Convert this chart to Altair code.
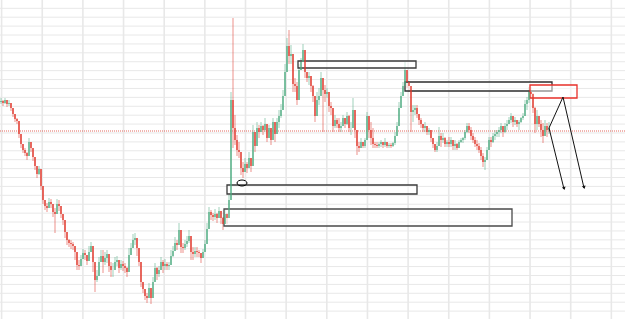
import altair as alt
import pandas as pd

# Candle values in chart units (the price axis runs downward: larger = lower on the chart)
first_open = 102
close = [
    101, 103, 100, 104, 103, 108, 114, 119, 121, 134, 144, 150, 153, 156, 142, 148, 157, 166, 174, 169,
    186, 200, 206, 208, 202, 204, 212, 214, 204, 206, 214, 220, 232, 240, 243, 244, 246, 252, 265, 266,
    259, 253, 255, 261, 252, 246, 262, 280, 276, 262, 256, 262, 258, 254, 266,
    270, 270, 262, 260, 268, 264, 266, 268, 272, 255, 248, 240, 238, 248, 262, 282, 289, 296, 298, 288,
    298, 282, 268, 274, 270, 262, 266, 264, 266, 265, 256, 251, 243, 245, 230, 247, 248, 244, 241, 236,
    252, 254, 251, 252, 253, 258, 252, 244, 229, 212, 215, 217, 214, 218, 211, 218, 224, 214, 218, 200,
    100, 128, 140, 150, 152, 168, 172, 164, 168, 158, 166, 132, 146, 128, 132, 126, 130, 124, 138, 128,
    140, 122, 134, 122, 116, 110, 96, 72, 46, 56, 54, 84, 86, 100, 70, 62, 50, 72, 78, 76,
    86, 96, 116, 100, 96, 78, 90, 94, 92, 106,
    108, 126, 120, 124, 128, 126, 118, 124, 116, 128, 128, 110, 130, 146, 148, 142, 146, 140, 116, 130,
    138, 144, 145, 146, 144, 142, 145, 142, 146, 145, 146, 143, 136, 126, 108, 96, 86, 70, 82, 86,
    112, 110, 108, 114, 120, 124, 128, 126, 132, 130, 138, 144, 150, 146, 136,
    140, 138, 144, 142, 144, 140, 146, 144, 148, 142, 140, 138, 132, 126, 130, 136, 140, 144, 146, 150,
    156, 162, 160, 150, 140, 142, 136, 134, 132, 130, 126, 132, 126, 124, 120, 116, 122, 120, 124, 122,
    118, 116, 104, 100, 92, 94, 108, 124, 116, 124, 130, 136, 126, 130, 128,
]
high = [
    98, 100, 98, 101, 100, 104, 110, 115, 118, 127, 140, 146, 148, 152, 138, 144, 152, 162, 170, 166,
    176, 195, 202, 203, 198, 199, 207, 208, 199, 200, 209, 216, 226, 236, 239, 240, 242, 248, 258, 260,
    255, 249, 250, 257, 246, 242, 256, 270, 270, 257, 250, 250, 252, 250, 260,
    262, 263, 257, 256, 263, 260, 261, 263, 267, 248, 243, 234, 233, 240, 255, 265, 285, 290, 293, 283,
    293, 277, 263, 267, 266, 257, 260, 259, 262, 262, 250, 246, 237, 240, 223, 240, 243, 240, 236, 230,
    243, 247, 247, 247, 250, 253, 249, 240, 223, 207, 210, 213, 209, 213, 207, 213, 217, 210, 213, 195,
    92, 18, 115, 135, 142, 155, 162, 158, 162, 152, 160, 125, 138, 122, 125, 122, 125, 118, 132, 125,
    132, 118, 125, 118, 110, 104, 90, 64, 38, 30, 45, 70, 78, 82, 64, 58, 44, 64, 72, 72,
    78, 85, 105, 92, 88, 72, 80, 85, 88, 98,
    102, 112, 115, 118, 118, 122, 115, 118, 112, 115, 122, 98, 122, 135, 142, 138, 142, 138, 112, 118,
    122, 128, 142, 142, 142, 140, 142, 138, 142, 143, 143, 142, 132, 122, 102, 92, 82, 62, 75, 82,
    88, 105, 105, 105, 115, 118, 125, 122, 128, 128, 132, 138, 145, 142, 127,
    133, 133, 137, 140, 137, 137, 140, 140, 143, 140, 138, 137, 130, 123, 123, 127, 133, 137, 140, 143,
    147, 153, 157, 147, 137, 137, 133, 130, 130, 127, 123, 127, 123, 120, 117, 113, 117, 117, 120, 120,
    117, 113, 100, 97, 87, 87, 93, 107, 110, 117, 120, 123, 120, 123, 122,
]
low = [
    104, 106, 104, 107, 106, 111, 117, 122, 124, 138, 148, 153, 156, 160, 146, 152, 161, 170, 178, 175,
    190, 204, 210, 212, 206, 208, 217, 233, 208, 211, 218, 225, 238, 245, 247, 249, 250, 260, 270, 270,
    264, 258, 260, 265, 256, 250, 272, 292, 282, 266, 262, 273, 265, 263, 272,
    277, 277, 270, 266, 273, 270, 271, 273, 277, 260, 253, 245, 245, 256, 266, 287, 293, 300, 303, 297,
    304, 290, 278, 280, 277, 270, 273, 270, 270, 270, 263, 257, 250, 250, 240, 253, 253, 250, 247, 243,
    260, 260, 257, 257, 257, 263, 257, 250, 237, 217, 220, 221, 220, 223, 217, 224, 230, 220, 224, 215,
    200, 148, 145, 156, 158, 175, 178, 172, 173, 168, 172, 142, 152, 135, 138, 132, 135, 132, 142, 135,
    145, 128, 142, 128, 128, 118, 102, 82, 56, 64, 64, 92, 92, 105, 78, 68, 58, 78, 82, 85,
    92, 102, 122, 108, 105, 88, 132, 102, 98, 112,
    115, 132, 128, 128, 132, 132, 125, 128, 125, 132, 135, 122, 138, 155, 152, 148, 148, 148, 122, 138,
    145, 148, 148, 148, 148, 147, 148, 147, 148, 148, 148, 147, 145, 135, 118, 105, 95, 82, 88, 92,
    132, 122, 115, 118, 125, 128, 132, 132, 135, 135, 142, 148, 152, 152, 145,
    147, 143, 147, 147, 147, 147, 150, 150, 150, 147, 143, 143, 140, 133, 133, 140, 143, 147, 150, 153,
    160, 167, 170, 160, 150, 147, 143, 140, 137, 137, 133, 137, 133, 130, 123, 123, 127, 125, 127, 130,
    123, 120, 113, 110, 103, 97, 113, 133, 130, 127, 137, 143, 133, 137, 134,
]

# Drawn annotations: boxes (t1, t2, level1, level2), their outline colours
box_t1 = [148.5, 202, 113, 111.5, 264.5]
box_t2 = [207.5, 275.5, 208, 255.5, 288]
box_v1 = [61, 82, 185, 209, 85]
box_v2 = [68, 91, 194, 226, 98]
box_col = ["#3a3a3a", "#2e2e2e", "#3a3a3a", "#4a4a4a", "#e8302a"]

ref_level = [131]
ellipse_t = [120.5]
ellipse_v = [183]

arrow_path = ["a", "a", "b", "b", "b"]
arrow_t = [274, 281.5, 274, 281, 291.5]
arrow_v = [128, 189, 128, 97, 188]
head_t = [281.5, 291.5]
head_v = [188, 187]
head_ang = [166, 167]

grid_t = [0.3 + 20.325 * k for k in range(16)]
grid_v = [8.3 + 8.906 * k for k in range(36)]

opens = [first_open] + close[:-1]
rows = []
for i, (o, c, h, l) in enumerate(zip(opens, close, high, low)):
    rows.append(dict(t=i, open=o, close=c, high=min(h, o, c), low=max(l, o, c),
                     dir="down" if c > o else "up"))
df = pd.DataFrame(rows)

xs = alt.Scale(domain=[-0.5, 312], nice=False, zero=False)
ys = alt.Scale(domain=[0, 319], reverse=True, nice=False, zero=False)
col = alt.Color("dir:N", scale=alt.Scale(domain=["up", "down"], range=["#52ad84", "#e0392e"]), legend=None)

vgrid = alt.Chart(pd.DataFrame({"t": grid_t})).mark_rule(color="#e8e8e8", strokeWidth=1.6).encode(
    x=alt.X("t:Q", scale=xs, axis=None)
)
hgrid = alt.Chart(pd.DataFrame({"v": grid_v})).mark_rule(color="#e8e8e8", strokeWidth=1).encode(
    y=alt.Y("v:Q", scale=ys, axis=None)
)

wick = alt.Chart(df).mark_rule(strokeWidth=1, opacity=0.55).encode(
    x=alt.X("t:Q", scale=xs, axis=None),
    y=alt.Y("high:Q", scale=ys, axis=None),
    y2="low:Q",
    color=col,
)
body = alt.Chart(df).mark_rule(strokeWidth=1.6, opacity=0.85).encode(
    x=alt.X("t:Q", scale=xs, axis=None),
    y=alt.Y("open:Q", scale=ys, axis=None),
    y2="close:Q",
    color=col,
)

ref = alt.Chart(pd.DataFrame({"v": ref_level})).mark_rule(
    color="#e05a4e", strokeDash=[1, 1], strokeWidth=1, opacity=0.9
).encode(y=alt.Y("v:Q", scale=ys, axis=None))

boxes_df = pd.DataFrame({"t1": box_t1, "t2": box_t2, "v1": box_v1, "v2": box_v2, "c": box_col})
boxes = alt.Chart(boxes_df).mark_rect(fill="white", fillOpacity=0.5, strokeWidth=1.3).encode(
    x=alt.X("t1:Q", scale=xs, axis=None), x2="t2:Q",
    y=alt.Y("v1:Q", scale=ys, axis=None), y2="v2:Q",
    stroke=alt.Stroke("c:N", scale=None),
)

ell = alt.Chart(pd.DataFrame({"t": ellipse_t, "v": ellipse_v})).mark_point(
    shape="M-1,0A1,0.6,0,1,0,1,0A1,0.6,0,1,0,-1,0Z", size=100, filled=False,
    color="black", strokeWidth=1, opacity=1
).encode(x=alt.X("t:Q", scale=xs, axis=None), y=alt.Y("v:Q", scale=ys, axis=None))

arr_df = pd.DataFrame({"p": arrow_path, "t": arrow_t, "v": arrow_v, "o": list(range(len(arrow_t)))})
arrows = alt.Chart(arr_df).mark_line(color="#111", strokeWidth=1).encode(
    x=alt.X("t:Q", scale=xs, axis=None), y=alt.Y("v:Q", scale=ys, axis=None),
    detail="p:N", order="o:Q",
)
heads = alt.Chart(pd.DataFrame({"t": head_t, "v": head_v, "a": head_ang})).mark_point(
    shape="triangle", filled=True, size=14, color="#111", opacity=1
).encode(
    x=alt.X("t:Q", scale=xs, axis=None), y=alt.Y("v:Q", scale=ys, axis=None),
    angle=alt.Angle("a:Q", scale=None),
)

chart = alt.layer(vgrid, hgrid, wick, ref, boxes, body, ell, arrows, heads).properties(
    width=625, height=319, autosize=alt.AutoSizeParams(type="none"), padding=0,
    background="white",
).configure_view(stroke=None)

chart.save("out.html", embed_options={"renderer": "svg", "actions": False})
